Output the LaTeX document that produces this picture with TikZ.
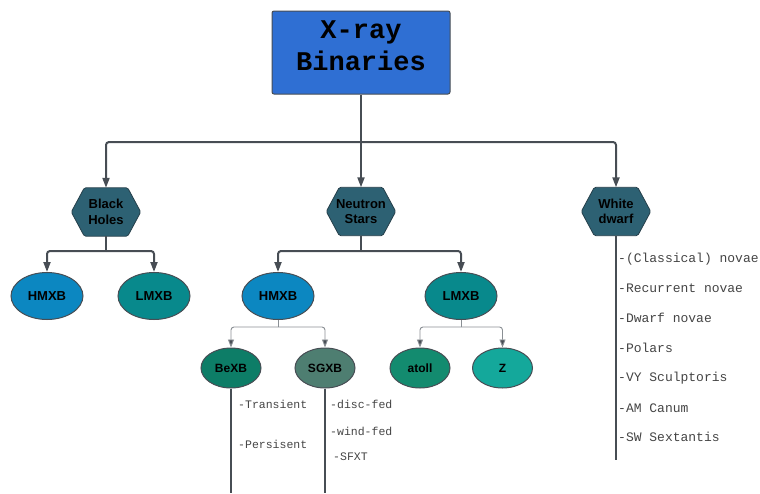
\documentclass[tikz,border=0pt]{standalone}
\usepackage{fontspec}
\setmainfont{Liberation Sans}
\newfontfamily\monofnt{Liberation Mono}
\usetikzlibrary{arrows.meta,calc,shapes.geometric}
\definecolor{titleblue}{HTML}{2F6FD3}
\definecolor{hexteal}{HTML}{2D6173}
\definecolor{hexedge}{HTML}{263F4A}
\definecolor{linegray}{HTML}{474D54}
\definecolor{thingray}{HTML}{8A8F94}
\definecolor{txtgray}{HTML}{444444}
\definecolor{cblue}{HTML}{0C87C1}
\definecolor{cteal}{HTML}{08898C}
\definecolor{cgreen}{HTML}{0D7D67}
\definecolor{cgraygreen}{HTML}{4E7E71}
\definecolor{catoll}{HTML}{138B6F}
\definecolor{cz}{HTML}{14A89B}
\tikzset{
  x=1pt, y=-1pt,
  titlebox/.style={rectangle, draw=linegray, line width=1pt, fill=titleblue, rounded corners=2pt,
    minimum width=178pt, minimum height=83pt, inner sep=0pt},
  titletxt/.style={inner sep=0pt, align=center, font=\monofnt\bfseries\fontsize{27}{32}\selectfont},
  hexbox/.style={rectangle, minimum width=69pt, minimum height=48pt, inner sep=0pt, align=center,
    font=\bfseries\fontsize{13}{15.5}\selectfont},
  hexfill/.style={fill=hexteal, draw=hexedge, line width=0.8pt, rounded corners=1.5pt},
  bigell/.style={ellipse, draw=linegray, line width=1pt, minimum width=72pt, minimum height=47pt,
    inner sep=0pt, font=\bfseries\fontsize{13}{15}\selectfont},
  smallell/.style={ellipse, draw=linegray, line width=1pt, minimum width=60pt, minimum height=40pt,
    inner sep=0pt, font=\bfseries\fontsize{12}{14}\selectfont},
  conn/.style={draw=linegray, line width=2pt, rounded corners=3pt},
  arr/.style={-{Triangle[width=7pt,length=10pt]}},
  thinconn/.style={draw=thingray, line width=0.9pt, rounded corners=3pt},
  thinarr/.style={-{Triangle[width=6pt,length=8pt,fill=linegray]}},
  stem/.style={draw=linegray, line width=1.4pt},
  listtxt/.style={anchor=west, inner sep=0pt, text=txtgray, font=\monofnt\fontsize{11.5}{13}\selectfont},
  wdtxt/.style={anchor=west, inner sep=0pt, text=txtgray, font=\monofnt\fontsize{13}{15}\selectfont}
}
\newcommand{\hexshape}[1]{%
  \path[hexfill] (#1.west) -- ($(#1.north west)+(13,0)$) -- ($(#1.north east)+(-13,0)$) -- (#1.east)
    -- ($(#1.south east)+(-13,0)$) -- ($(#1.south west)+(13,0)$) -- cycle;}
\begin{document}
\begin{tikzpicture}
\useasboundingbox (0,0) rectangle (760,493);
% title
\node[titlebox] (title) at (361,52.5) {};
\node[titletxt] (titlet) at (361,46) {X-ray\\Binaries};
% hexagons
\node[hexbox] (bh) at (106,212) {};
\node[hexbox] (ns) at (361,211.5) {};
\node[hexbox] (wd) at (616,211.5) {};
\hexshape{bh}\hexshape{ns}\hexshape{wd}
\node[hexbox] at (bh) {Black\\Holes};
\node[hexbox] at (ns) {Neutron\\Stars};
\node[hexbox] at (wd) {White\\dwarf};
% level 2 ellipses
\node[bigell, fill=cblue] (bhh) at (47,296) {HMXB};
\node[bigell, fill=cteal] (bhl) at (154,296) {LMXB};
\node[bigell, fill=cblue] (nsh) at (278,296) {HMXB};
\node[bigell, fill=cteal] (nsl) at (461,296) {LMXB};
% level 3 ellipses
\node[smallell, fill=cgreen] (bexb) at (231,368) {BeXB};
\node[smallell, fill=cgraygreen] (sgxb) at (325,368) {SGXB};
\node[smallell, fill=catoll] (atoll) at (420,368) {atoll};
\node[smallell, fill=cz] (zz) at (502.5,368) {Z};
% junctions
\coordinate (j1) at (361,142);
\coordinate (j2) at (106,251);
\coordinate (j3) at (361,251);
\coordinate (j4) at (278,327);
\coordinate (j5) at (461,327);
% main connectors
\draw[conn] (title.south) -- (j1);
\draw[conn,arr] (j1) -| (bh.north);
\draw[conn,arr] (j1) -| (wd.north);
\draw[conn,arr] (j1) -- (ns.north);
% level 2
\draw[conn] (bh.south) -- (j2);
\draw[conn,arr] (j2) -| (bhh.north);
\draw[conn,arr] (j2) -| (bhl.north);
\draw[conn] (ns.south) -- (j3);
\draw[conn,arr] (j3) -| (nsh.north);
\draw[conn,arr] (j3) -| (nsl.north);
% level 3
\draw[thinconn] (nsh.south) -- (j4);
\draw[thinconn,thinarr] (j4) -| (bexb.north);
\draw[thinconn,thinarr] (j4) -| (sgxb.north);
\draw[thinconn] (nsl.south) -- (j5);
\draw[thinconn,thinarr] (j5) -| (atoll.north);
\draw[thinconn,thinarr] (j5) -| (zz.north);
% stems
\coordinate (bend) at (231,493);
\coordinate (send) at (325,493);
\coordinate (wend) at (616,460);
\draw[stem] (bexb.south) -- (bend);
\draw[stem] (sgxb.south) -- (send);
\draw[stem] (wd.south) -- (wend);
% lists
\node[listtxt] (t1) at (238,404) {-Transient};
\node[listtxt] (t2) at (238,444) {-Persisent};
\node[listtxt] (s1) at (330,404) {-disc-fed};
\node[listtxt] (s2) at (330,431) {-wind-fed};
\node[listtxt] (s3) at (333,457) {-SFXT};
\node[wdtxt] (w1) at (618,259) {-(Classical) novae};
\node[wdtxt] (w2) at (618,288.5) {-Recurrent novae};
\node[wdtxt] (w3) at (618,318) {-Dwarf novae};
\node[wdtxt] (w4) at (618,348) {-Polars};
\node[wdtxt] (w5) at (618,378) {-VY Sculptoris};
\node[wdtxt] (w6) at (618,408) {-AM Canum};
\node[wdtxt] (w7) at (618,437) {-SW Sextantis};
\end{tikzpicture}
\end{document}
